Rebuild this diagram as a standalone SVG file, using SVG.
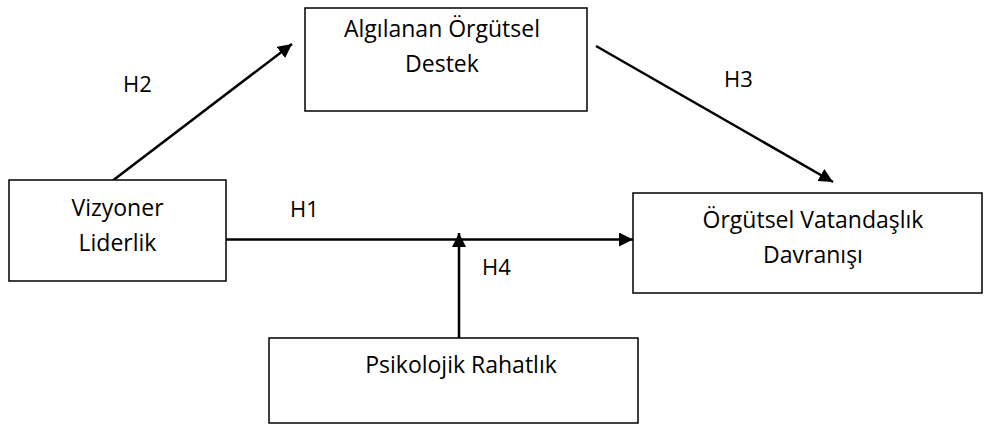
<svg xmlns="http://www.w3.org/2000/svg" width="986" height="426" viewBox="0 0 986 426">
<style>
.box{fill:#fff;stroke:#000;stroke-width:1.5}
.t{font-family:"Open Sans","Noto Sans",sans-serif;font-size:23px;fill:#000;text-anchor:middle}
.lbl{font-family:"Open Sans","Noto Sans",sans-serif;font-size:22px;fill:#000}
.c{stroke:#000;stroke-width:2.5;fill:none;marker-end:url(#ah)}
</style>
<defs>
<marker id="ah" markerUnits="userSpaceOnUse" markerWidth="16" markerHeight="16" refX="14" refY="7" orient="auto">
<path d="M0,0 L14,7 L0,14 Z" fill="#000"/>
</marker>
</defs>
<rect width="986" height="426" fill="#fff"/>
<g id="connectors">
<line class="c" x1="103" y1="188" x2="292" y2="44"/>
<line class="c" x1="596" y1="46" x2="833" y2="182"/>
<line class="c" x1="226" y1="239.5" x2="633" y2="239.5"/>
<line class="c" x1="459" y1="338" x2="459" y2="233"/>
<text class="lbl" x="123" y="92">H2</text>
<text class="lbl" x="724" y="87">H3</text>
<text class="lbl" x="290" y="217">H1</text>
<text class="lbl" x="482" y="275">H4</text>
</g>
<g id="vizyoner">
<rect class="box" x="9" y="180" width="217" height="101"/>
<text class="t" x="117.5" y="216">Vizyoner</text>
<text class="t" x="117.5" y="251">Liderlik</text>
</g>
<g id="algilanan">
<rect class="box" x="305" y="8" width="282" height="103"/>
<text class="t" x="442" y="37">Algılanan Örgütsel</text>
<text class="t" x="442" y="72">Destek</text>
</g>
<g id="ovd">
<rect class="box" x="633" y="193" width="349" height="100"/>
<text class="t" x="813" y="228">Örgütsel Vatandaşlık</text>
<text class="t" x="813" y="263">Davranışı</text>
</g>
<g id="psikolojik">
<rect class="box" x="269" y="338" width="369" height="85"/>
<text class="t" x="461" y="373">Psikolojik Rahatlık</text>
</g>
</svg>
